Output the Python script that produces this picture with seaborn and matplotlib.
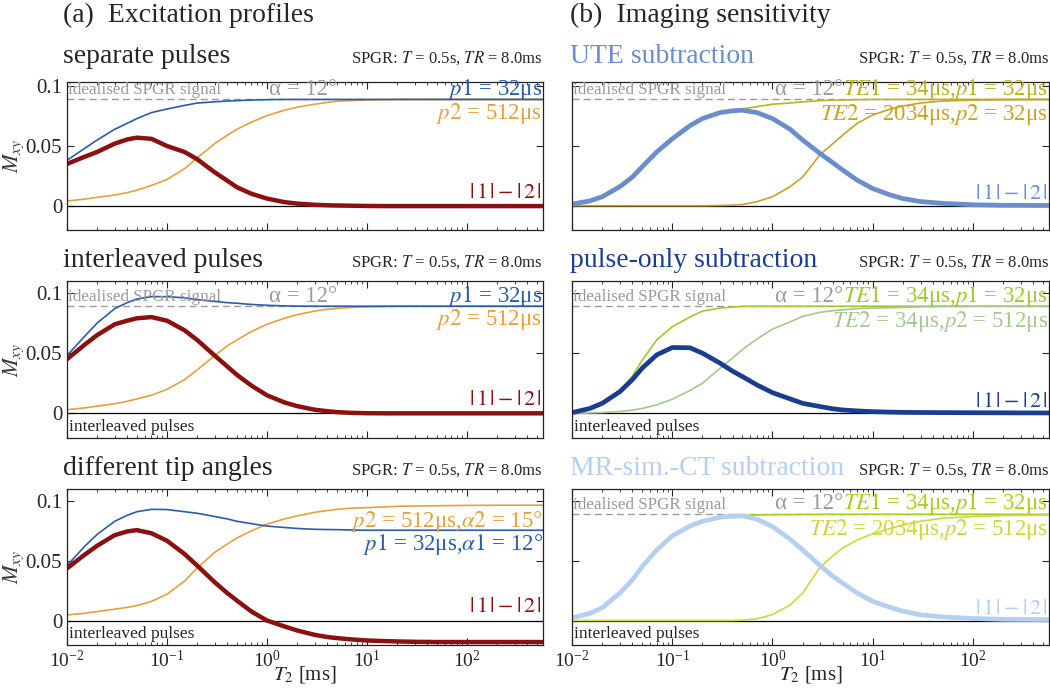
import matplotlib
matplotlib.use("Agg")
import matplotlib.pyplot as plt
import seaborn as sns

# T2 sample points [ms] (values below)
t2_ms = [0.01, 0.015, 0.02, 0.03, 0.04, 0.05, 0.07, 0.1, 0.15, 0.2,
         0.3, 0.4, 0.5, 0.7, 1, 1.5, 2, 3, 4, 5,
         7, 10, 15, 20, 30, 50, 100, 200, 575]

# (a) excitation profiles
sep_p1 = [0.038, 0.048, 0.055, 0.064, 0.069, 0.073, 0.078, 0.081, 0.084, 0.086,
          0.087, 0.0877, 0.088, 0.0885, 0.0888, 0.089, 0.089, 0.089, 0.089, 0.089,
          0.089, 0.089, 0.089, 0.089, 0.089, 0.089, 0.089, 0.089, 0.089]
sep_p2 = [0.004, 0.0055, 0.007, 0.009, 0.011, 0.013, 0.017, 0.022, 0.031, 0.040,
          0.052, 0.059, 0.064, 0.070, 0.0755, 0.080, 0.0825, 0.085, 0.0865, 0.0875,
          0.088, 0.0886, 0.0888, 0.089, 0.089, 0.089, 0.089, 0.089, 0.089]
sep_diff = [0.035, 0.041, 0.045, 0.052, 0.0555, 0.057, 0.056, 0.050, 0.045, 0.039,
            0.028, 0.021, 0.0155, 0.010, 0.006, 0.003, 0.0018, 0.0008, 0.0004, 0.0002,
            0.0, -0.0002, -0.0003, -0.0003, -0.0003, -0.0003, -0.0003, -0.0003, -0.0003]

int_p1 = [0.048, 0.064, 0.075, 0.087, 0.092, 0.095, 0.097, 0.097, 0.096, 0.0945,
          0.093, 0.092, 0.0915, 0.0905, 0.0898, 0.0893, 0.0891, 0.089, 0.089, 0.089,
          0.089, 0.089, 0.089, 0.089, 0.089, 0.089, 0.089, 0.089, 0.089]
int_p2 = [0.003, 0.0045, 0.006, 0.008, 0.010, 0.012, 0.015, 0.020, 0.028, 0.036,
          0.048, 0.056, 0.061, 0.068, 0.074, 0.079, 0.082, 0.085, 0.0865, 0.0872,
          0.088, 0.0885, 0.0888, 0.089, 0.089, 0.089, 0.089, 0.089, 0.089]
int_diff = [0.045, 0.057, 0.065, 0.074, 0.077, 0.079, 0.080, 0.077, 0.069, 0.061,
            0.048, 0.039, 0.032, 0.023, 0.015, 0.009, 0.006, 0.003, 0.0018, 0.001,
            0.0004, 0.0001, 0.0, 0.0, 0.0, 0.0, 0.0, 0.0, 0.0]

tip_p1 = [0.046, 0.062, 0.072, 0.083, 0.088, 0.091, 0.093, 0.0928, 0.091, 0.0897,
          0.087, 0.085, 0.083, 0.081, 0.079, 0.0778, 0.077, 0.0763, 0.0761, 0.076,
          0.0757, 0.0755, 0.0755, 0.0755, 0.0755, 0.0755, 0.0755, 0.0755, 0.0755]
tip_p2 = [0.0047, 0.006, 0.0075, 0.0095, 0.011, 0.0125, 0.016, 0.022, 0.033, 0.044,
          0.057, 0.064, 0.069, 0.075, 0.0806, 0.085, 0.0875, 0.0905, 0.092, 0.093,
          0.094, 0.0944, 0.095, 0.0955, 0.0958, 0.096, 0.0963, 0.0964, 0.0965]
tip_diff = [0.0436, 0.055, 0.0625, 0.0714, 0.0745, 0.0756, 0.073, 0.0667, 0.0556, 0.046,
            0.032, 0.023, 0.0167, 0.0075, 0.0, -0.005, -0.0083, -0.012, -0.0138, -0.0147,
            -0.0158, -0.0167, -0.0172, -0.0175, -0.0178, -0.018, -0.018, -0.018, -0.018]

# (b) imaging sensitivity
ute_te1 = [0.0014, 0.004, 0.0075, 0.016, 0.024, 0.0325, 0.045, 0.056, 0.067, 0.073,
           0.078, 0.0795, 0.081, 0.083, 0.085, 0.086, 0.087, 0.088, 0.0883, 0.0885,
           0.0888, 0.089, 0.089, 0.089, 0.089, 0.089, 0.089, 0.089, 0.089]
ute_te2 = [0.0, 0.0, 0.0, 0.0, 0.0, 0.0, 0.0, 0.0, 0.0, 0.0,
           0.0002, 0.0005, 0.001, 0.0034, 0.0075, 0.016, 0.024, 0.043, 0.052, 0.059,
           0.069, 0.076, 0.081, 0.0835, 0.086, 0.0877, 0.0885, 0.0888, 0.089]
ute_diff = [0.0014, 0.004, 0.0075, 0.016, 0.024, 0.0325, 0.045, 0.056, 0.067, 0.073,
            0.078, 0.0795, 0.080, 0.078, 0.073, 0.064, 0.055, 0.0436, 0.036, 0.030,
            0.0214, 0.0144, 0.009, 0.006, 0.0035, 0.002, 0.0008, 0.0004, 0.0002]

pulse_te1 = [0.0006, 0.004, 0.009, 0.019, 0.031, 0.044, 0.061, 0.072, 0.080, 0.085,
             0.0875, 0.0884, 0.0889, 0.089, 0.089, 0.089, 0.089, 0.089, 0.089, 0.089,
             0.089, 0.089, 0.089, 0.089, 0.089, 0.089, 0.089, 0.089, 0.089]
pulse_te2 = [0.0, 0.0003, 0.0006, 0.0015, 0.0027, 0.004, 0.007, 0.0117, 0.019, 0.025,
             0.0375, 0.046, 0.053, 0.0617, 0.070, 0.076, 0.0806, 0.084, 0.0853, 0.086,
             0.087, 0.0875, 0.0878, 0.088, 0.0885, 0.0889, 0.089, 0.089, 0.089]
pulse_diff = [0.0006, 0.004, 0.0083, 0.018, 0.028, 0.0375, 0.0486, 0.0547, 0.0545, 0.050,
              0.0417, 0.035, 0.0306, 0.0236, 0.0172, 0.012, 0.0083, 0.0056, 0.0038, 0.0028,
              0.002, 0.0014, 0.001, 0.0008, 0.0007, 0.0006, 0.0005, 0.0004, 0.0003]

ct_te1 = [0.0022, 0.006, 0.0106, 0.023, 0.034, 0.045, 0.059, 0.0708, 0.079, 0.083,
          0.0864, 0.0873, 0.0878, 0.0883, 0.0885, 0.0886, 0.0887, 0.0888, 0.0888, 0.0888,
          0.0888, 0.0888, 0.0888, 0.0888, 0.0888, 0.0888, 0.0888, 0.0888, 0.0888]
ct_te2 = [0.0, 0.0, 0.0, 0.0, 0.0, 0.0, 0.0, 0.0, 0.0, 0.0,
          0.0, 0.0, 0.0003, 0.0014, 0.005, 0.013, 0.023, 0.0447, 0.054, 0.0606,
          0.0675, 0.0725, 0.077, 0.080, 0.083, 0.0856, 0.087, 0.0878, 0.0883]
ct_diff = [0.0022, 0.006, 0.0106, 0.023, 0.034, 0.045, 0.059, 0.0708, 0.079, 0.083,
           0.0864, 0.0873, 0.0875, 0.0847, 0.0786, 0.068, 0.059, 0.0458, 0.037, 0.0314,
           0.023, 0.016, 0.011, 0.0078, 0.0048, 0.003, 0.0017, 0.001, 0.0008]

ideal_spgr = 0.089

sns.set_style("ticks")
plt.rcParams["font.family"] = ["Liberation Serif", "DejaVu Serif"]
plt.rcParams["mathtext.fontset"] = "stix"
plt.rcParams["xtick.direction"] = "in"
plt.rcParams["ytick.direction"] = "in"
plt.rcParams["axes.edgecolor"] = "#222222"

BLUE, ORANGE, RED = "#2a5ca8", "#e3a23c", "#8b1010"
GREY = "#9a9a9a"
spgr = r"SPGR: $T$ = 0.5s, $TR$ = 8.0ms"
bars = r"$|\,1\,|-|\,2\,|$"

fig = plt.figure(figsize=(10.5, 6.95), dpi=100)

rows = [(0.6691, 0.2129, (-0.0203, 0.1036), 14),
        (0.3698, 0.2259, (-0.0205, 0.110), 10),
        (0.0719, 0.2245, (-0.0205, 0.110), 10)]
cols = [(0.0638, 0.4533), (0.5448, 0.4543)]


def setup(ax, row, col):
    y0, h, ylim, pad = rows[row]
    ax.set_xscale("log")
    ax.set_xlim(0.01, 575)
    ax.set_ylim(*ylim)
    ax.axhline(0, color="black", lw=0.9, zorder=1)
    ax.set_yticks([0, 0.05, 0.1])
    ax.tick_params(which="both", top=True, right=True, labelsize=14)
    ax.tick_params(axis="y", labelsize=15)
    ax.tick_params(which="major", length=5, width=0.8)
    ax.tick_params(which="minor", length=2.5, width=0.6)
    if col == 0:
        ax.set_yticklabels(["0", "0.05", "0.1"])
        ax.set_ylabel(r"$M_{xy}$", fontsize=16, color="#3a3a3a", labelpad=0)
    else:
        ax.set_yticklabels([])
    if row < 2:
        ax.tick_params(axis="x", which="both", labelbottom=False)
    else:
        ax.set_xlabel(r"$T_2$ [ms]", fontsize=15, labelpad=-5)
    ax.set_title(spgr, loc="right", fontsize=12, pad=4)
    if row > 0:
        ax.text(0.004, 0.02, "interleaved pulses", transform=ax.transAxes,
                fontsize=12.5, ha="left", va="bottom")
    for s in ax.spines.values():
        s.set_linewidth(0.9)
        s.set_visible(True)


def ideal(ax):
    ax.axhline(ideal_spgr, color=GREY, lw=1, ls=(0, (5, 3)), zorder=1)
    ax.text(0.003, ideal_spgr + 0.0008, "idealised SPGR signal", transform=ax.get_yaxis_transform(),
            fontsize=12.3, color=GREY, ha="left", va="bottom")


def curve(ax, y, color, lw):
    sns.lineplot(x=t2_ms, y=y, ax=ax, color=color, lw=lw, estimator=None, sort=False)


# ---------- column (a)
left = [("separate pulses", sep_p1, sep_p2, sep_diff),
        ("interleaved pulses", int_p1, int_p2, int_diff),
        ("different tip angles", tip_p1, tip_p2, tip_diff)]
for r, (title, p1, p2, d) in enumerate(left):
    y0, h, ylim, pad = rows[r]
    ax = fig.add_axes([cols[0][0], y0, cols[0][1], h])
    setup(ax, r, 0)
    ax.set_title(title, loc="left", fontsize=20, pad=pad, x=-0.008)
    curve(ax, p2, ORANGE, 1.2)
    curve(ax, p1, BLUE, 1.2)
    curve(ax, d, RED, 3.2)
    if r < 2:
        ideal(ax)
        ax.text(1.05, 0.0975, "α = 12°", color=GREY, fontsize=16.5, ha="left", va="center")
        ax.text(0.998, 0.0975, r"$p1$ = 32μs", color=BLUE, fontsize=16.5, ha="right", va="center",
                transform=ax.get_yaxis_transform())
        ax.text(0.998, 0.0776, r"$p2$ = 512μs", color=ORANGE, fontsize=16.5, ha="right", va="center",
                transform=ax.get_yaxis_transform())
    else:
        ax.text(1.0, 0.083, r"$p2$ = 512μs,$\alpha2$ = 15°", color=ORANGE, fontsize=16.5,
                ha="right", va="center", transform=ax.get_yaxis_transform())
        ax.text(1.0, 0.064, r"$p1$ = 32μs,$\alpha1$ = 12°", color=BLUE, fontsize=16.5,
                ha="right", va="center", transform=ax.get_yaxis_transform())
    ax.text(0.998, 0.0105, bars, color=RED, fontsize=16, ha="right", va="center",
            transform=ax.get_yaxis_transform())

# ---------- column (b)
right = [("UTE subtraction", "#6a8dcc", "#b8b422", "#c9a227", ute_te1, ute_te2, ute_diff,
          "$TE2$ = 2034μs,$p2$ = 32μs"),
         ("pulse-only subtraction", "#1b3d8f", "#9ccc2c", "#a3c98f", pulse_te1, pulse_te2, pulse_diff,
          "$TE2$ = 34μs,$p2$ = 512μs"),
         ("MR-sim.-CT subtraction", "#b4cff2", "#a6cf1e", "#cbd93c", ct_te1, ct_te2, ct_diff,
          "$TE2$ = 2034μs,$p2$ = 512μs")]
for r, (title, main_c, c1, c2, te1, te2, d, lab2) in enumerate(right):
    y0, h, ylim, pad = rows[r]
    ax = fig.add_axes([cols[1][0], y0, cols[1][1], h])
    setup(ax, r, 1)
    ax.set_title(title, loc="left", fontsize=20, pad=pad, x=-0.004, color=main_c)
    curve(ax, te1, c1, 1.2)
    curve(ax, te2, c2, 1.2)
    curve(ax, d, main_c, 3.4)
    ideal(ax)
    ax.text(1.05, 0.0975, "α = 12°", color=GREY, fontsize=16.5, ha="left", va="center")
    ax.text(0.998, 0.0975, "$TE1$ = 34μs,$p1$ = 32μs", color=c1, fontsize=16.5, ha="right",
            va="center", transform=ax.get_yaxis_transform())
    ax.text(0.998, 0.076, lab2, color=c2, fontsize=16.5, ha="right", va="center",
            transform=ax.get_yaxis_transform())
    ax.text(0.998, 0.009, bars, color=main_c, fontsize=16, ha="right", va="center",
            transform=ax.get_yaxis_transform())

fig.text(0.06, 0.978, "(a)  Excitation profiles", fontsize=20, ha="left", va="center")
fig.text(0.543, 0.978, "(b)  Imaging sensitivity", fontsize=20, ha="left", va="center")

fig.savefig("out.png", dpi=100)
